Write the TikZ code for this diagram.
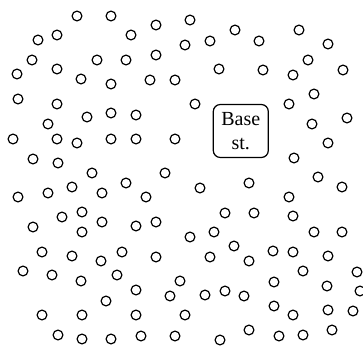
\documentclass[tikz,border=0pt]{standalone}
\usepackage{fontspec}
\setmainfont{Liberation Serif}
\begin{document}
\begin{tikzpicture}[x=0.5pt, y=-0.5pt]
        \tikzstyle{sensor}=[draw, circle, line width=0.6pt, minimum size=4.9pt, inner sep=0pt];
        \tikzstyle{base}=[draw, rectangle, rounded corners=3.5pt, line width=0.6pt, minimum width=27.5pt, minimum height=26.5pt, inner sep=1pt, align=center];

        \useasboundingbox (0,0) rectangle (363,347);

        \node[base] (bs) at (240.8,131) {Base\\st.};

        % sensor field
        \foreach \px/\py [count=\i] in {77/16, 111/16, 156/25, 190/20, 235/30, 299/30, 131/35, 57/35, 38/40, 259/41,
            210/41, 185/45, 328/44, 156/55, 126/60, 32/60, 97/60, 308/60, 17/74, 57/69,
            219/69, 263/70, 343/70, 293/75, 81/79, 111/84, 150/80, 175/80, 18/99, 314/94,
            57/104, 195/104, 289/104, 111/113, 87/117, 136/115, 347/118, 48/124, 312/124, 13/139,
            57/139, 77/143, 111/139, 136/139, 175/139, 328/143, 33/159, 58/163, 294/158, 92/173,
            165/173, 318/177, 126/183, 249/183, 72/187, 200/188, 342/187, 18/197, 48/193, 102/193,
            146/197, 289/197, 82/212, 62/217, 225/213, 254/213, 102/222, 33/227, 136/226, 156/222,
            293/216, 82/232, 190/237, 214/232, 314/232, 342/232, 42/252, 72/256, 101/261, 122/252,
            156/257, 210/257, 234/246, 273/251, 293/252, 249/261, 328/256, 23/271, 52/275, 81/281,
            117/275, 180/281, 303/271, 357/272, 274/282, 136/290, 170/296, 205/295, 225/291, 244/296,
            327/286, 360/291, 106/301, 274/306, 42/315, 82/315, 136/315, 185/315, 293/315, 328/310,
            353/311, 58/335, 82/339, 111/339, 141/336, 175/336, 220/340, 249/330, 279/336, 303/335,
            332/330}
            \node[sensor] (s\i) at (\px,\py) {};
    \end{tikzpicture}
\end{document}
